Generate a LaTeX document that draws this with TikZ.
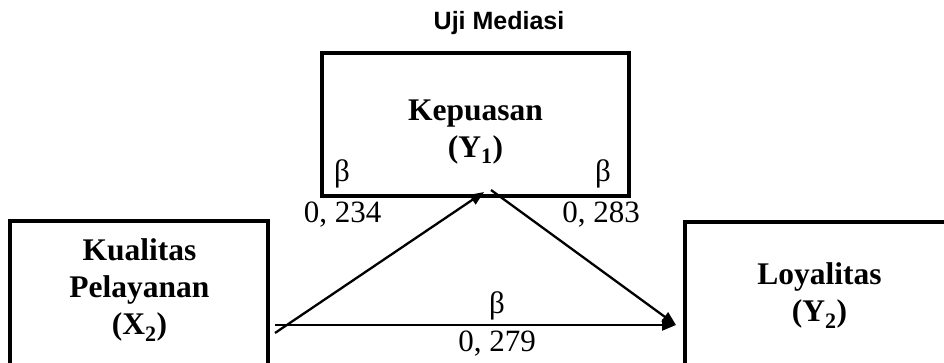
\documentclass[tikz,border=0pt]{standalone}
\usepackage{fontspec}
\setmainfont{Liberation Serif}
\setsansfont{Liberation Sans}
\usetikzlibrary{arrows.meta}
\tikzset{
  varbox/.style={draw=black, line width=3.8pt, inner sep=0pt},
  vartext/.style={align=center, font=\fontsize{31.5}{37}\selectfont\bfseries, inner sep=0pt, anchor=base},
  coef/.style={font=\fontsize{31}{34}\selectfont, inner sep=0pt, anchor=base},
  path/.style={line width=2.3pt, -{Triangle[length=14pt,width=11pt]}},
}
\begin{document}
\begin{tikzpicture}[x=1pt,y=1pt]
\useasboundingbox (0,0) rectangle (944,363);
\clip (0,0) rectangle (944,363);
% title
\node[font=\fontsize{25}{28}\selectfont\sffamily\bfseries, inner sep=0pt, anchor=base] (title) at (499,333) {Uji Mediasi};
% boxes
\node[varbox, minimum width=307pt, minimum height=143pt] (y1) at (475.5,238.5) {};
\node[varbox, minimum width=258pt, minimum height=170pt] (x2) at (139,57) {};
\node[varbox, minimum width=300pt, minimum height=170pt, anchor=north west] (y2) at (683,143) {};
% texts (anchor base = baseline of the last line)
\node[vartext] (y1t) at (475.5,205) {Kepuasan\\(Y\textsubscript{1})};
\node[vartext] (x2t) at (139.5,28) {Kualitas\\Pelayanan\\(X\textsubscript{2})};
\node[vartext] (y2t) at (819.5,41) {Loyalitas\\(Y\textsubscript{2})};
% coefficients
\node[coef] (b1) at (342,181) {β};
\node[coef] (c1) at (342.5,140) {0, 234};
\node[coef] (b2) at (603,181) {β};
\node[coef] (c2) at (601,140) {0, 283};
\node[coef] (b3) at (497,49) {β};
\node[coef] (c3) at (497,11) {0, 279};
% connector ends
\coordinate (s1) at (275,30);
\coordinate (e1) at (484,171);
\coordinate (s2) at (491,173);
\coordinate (e2) at (676,38);
\coordinate (s3) at (275,38);
\draw[path] (s1) -- (e1);
\draw[path] (s3) -- (e2);
\draw[path] (s2) -- (e2);
\end{tikzpicture}
\end{document}
